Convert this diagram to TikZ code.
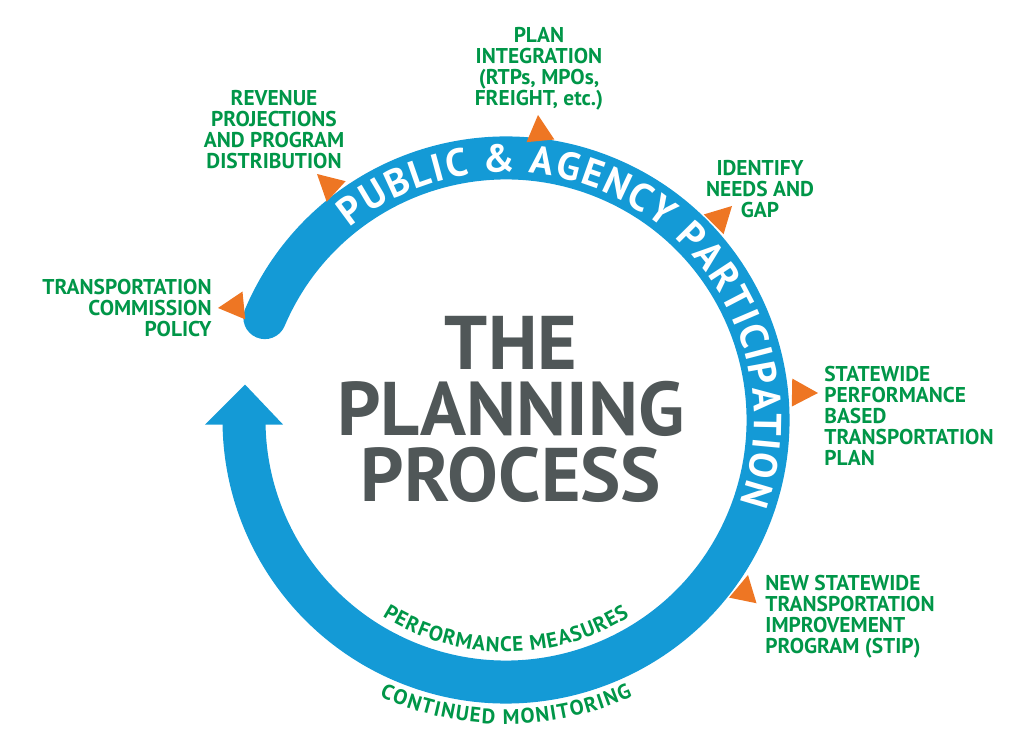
\documentclass[tikz,border=0pt]{standalone}
\usepackage{fontspec}
\setmainfont{PT Sans}
\usepackage{xcolor}
\usetikzlibrary{decorations.text}
\definecolor{ringblue}{RGB}{20,154,214}
\definecolor{labelgreen}{RGB}{0,150,72}
\definecolor{tiporange}{RGB}{238,118,35}
\definecolor{titlegray}{RGB}{80,87,88}
\newcommand{\pointer}[3]{\fill[tipfill] (#1,#2) -- ++(#3+151.7:29.5) -- ++(#3-90:28) -- cycle;}

\begin{document}
\begin{tikzpicture}[x=0.5pt, y=0.5pt,
    band/.style={draw=ringblue, line width=21.5pt, line cap=round},
    tipfill/.style={fill=tiporange},
    greentext/.style={text=labelgreen, inner sep=0pt, align=center,
      font=\bfseries\fontsize{10.7}{10.5}\selectfont},
    headline/.style={text=titlegray, inner sep=0pt, align=center,
      font=\bfseries\fontsize{38}{33}\selectfont}]
  \useasboundingbox (0,0) rectangle (1024,750);
  \begin{scope}[shift={(506,330)}]
    % the cycle and its arrow head
    \draw[band] (157:262) arc[start angle=157, end angle=-179, radius=262] coordinate (head);
    \fill[ringblue] (head) ++(-39,0) -- ++(78,0) -- ++(-38,40) -- cycle;
    % texts along the ring
    \path[decorate, decoration={text along path, text color=white, text align=fit to path,
        text={|\bfseries\fontsize{19.5}{19.5}\selectfont|PUBLIC {\&} AGENCY PARTICIPATION}}]
      (129:248) arc[start angle=129, end angle=-19.5, radius=248];
    \path[decorate, decoration={text along path, text color=labelgreen, text align=fit to path,
        text={|\bfseries\fontsize{10.5}{10.5}\selectfont|PERFORMANCE MEASURES}}]
      (237.8:232) arc[start angle=237.8, end angle=302.2, radius=232];
    \path[decorate, decoration={text along path, text color=labelgreen, text align=fit to path,
        text={|\bfseries\fontsize{10.5}{10.5}\selectfont|CONTINUED MONITORING}}]
      (245.4:304) arc[start angle=245.4, end angle=294.6, radius=304];
  \end{scope}
  \node[headline] (title) at (511,341) {THE\\PLANNING\\PROCESS};
  % steps round the cycle
  \node[greentext, anchor=east, align=right] (policy) at (212,442) {TRANSPORTATION\\COMMISSION\\POLICY};
  \node[greentext] (revenue) at (274,620) {REVENUE\\PROJECTIONS\\AND PROGRAM\\DISTRIBUTION};
  \node[greentext] (integration) at (539,681) {PLAN\\INTEGRATION\\(RTPs, MPOs,\\FREIGHT, etc.)};
  \node[greentext] (needs) at (760,561) {IDENTIFY\\NEEDS AND\\GAP};
  \node[greentext, anchor=west, align=left] (stateplan) at (824,334) {STATEWIDE\\PERFORMANCE\\BASED\\TRANSPORTATION\\PLAN};
  \node[greentext, anchor=west, align=left] (stip) at (765,133) {NEW STATEWIDE\\TRANSPORTATION\\IMPROVEMENT\\PROGRAM (STIP)};
  \pointer{218}{442}{185.6}
  \pointer{317}{576}{137.5}
  \pointer{538}{635}{95.4}
  \pointer{732}{544}{45}
  \pointer{818}{357}{-1}
  \pointer{748}{175}{78.4}
\end{tikzpicture}
\end{document}
